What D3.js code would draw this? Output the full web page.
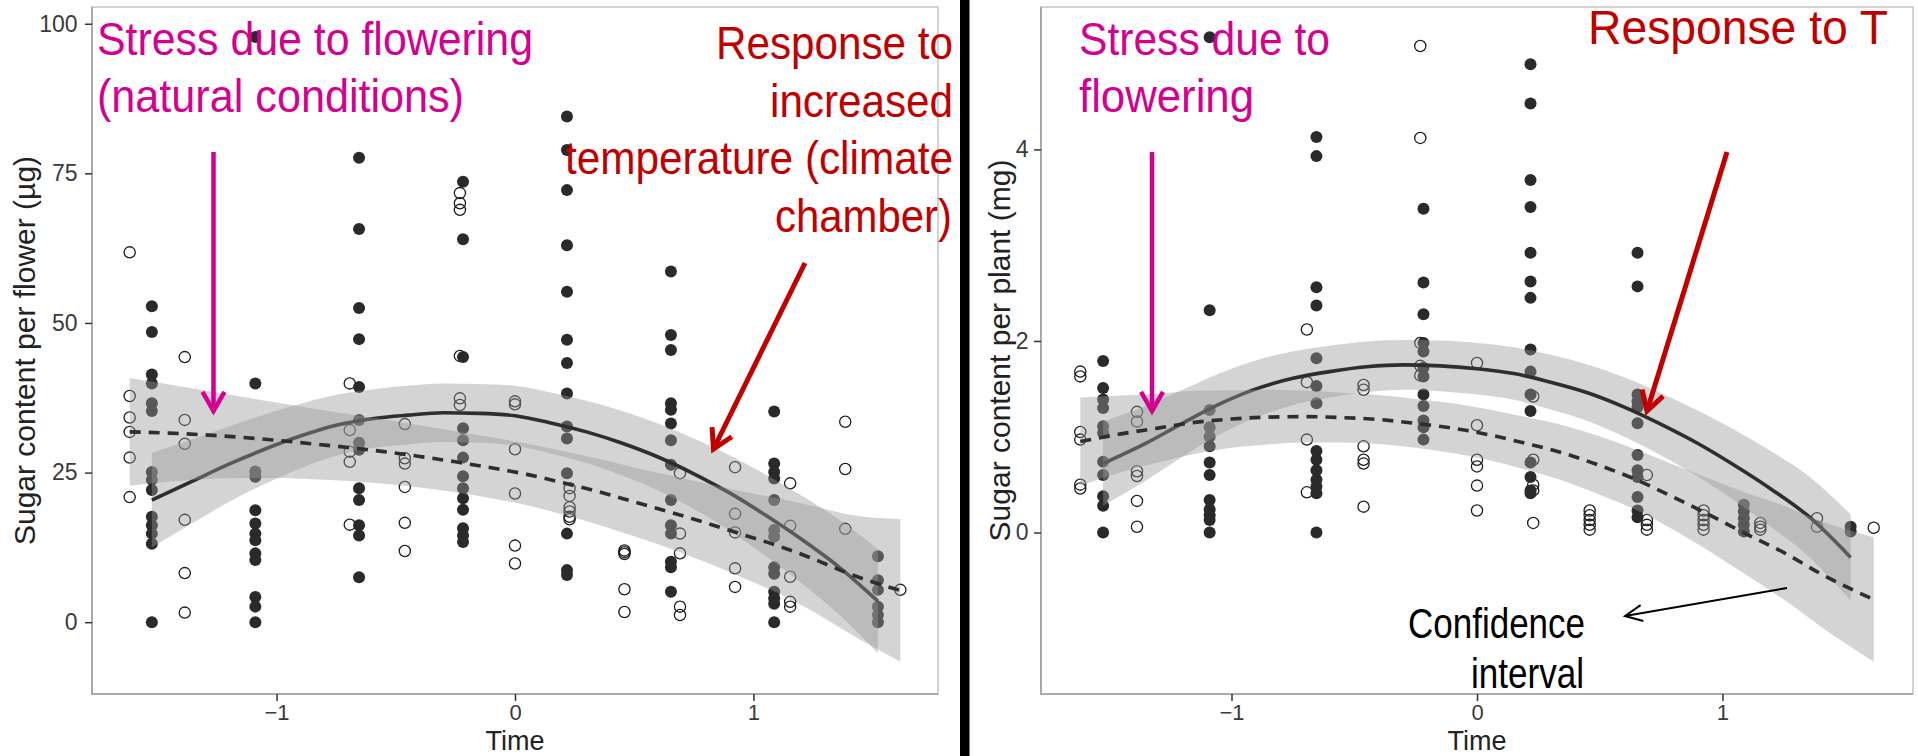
<!DOCTYPE html>
<html>
<head>
<meta charset="utf-8">
<script src="https://cdn.jsdelivr.net/npm/d3@7"></script>
<style>
  html, body { margin: 0; padding: 0; background: #ffffff; }
  svg { display: block; }
</style>
</head>
<body>
<svg id="chart" width="1918" height="756"></svg>
<script>
// ---------- sampling times (scaled) ----------
const openTimes   = [-1.616, -1.385, -0.693, -0.462, -0.231, 0, 0.229, 0.459, 0.692, 0.923, 1.154, 1.385, 1.616];
const filledTimes = [-1.523, -1.089, -0.654, -0.218, 0.218, 0.654, 1.087, 1.522];

// ---------- sugar per flower (µg) ----------
const flowerOpenSugar = [
  [61.8, 37.8, 34.2, 31.8, 27.5, 20.9],
  [44.3, 33.8, 29.8, 17.1, 8.2, 1.6],
  [39.9, 32.1, 28.5, 26.8, 16.3],
  [33.1, 27.4, 26.5, 22.6, 16.6, 11.9],
  [71.7, 70.0, 68.9, 44.5, 37.4, 36.3],
  [36.9, 36.4, 28.9, 21.5, 12.8, 9.8],
  [22.4, 21.1, 19.2, 18.5, 17.6, 17.2],
  [12.0, 11.7, 11.4, 5.5, 1.7],
  [24.9, 14.8, 11.5, 2.6, 1.2],
  [25.9, 18.1, 15.0, 9.0, 5.9],
  [23.2, 16.1, 7.6, 3.4, 2.6],
  [33.5, 25.6, 15.6],
  [5.4]
];
const flowerFilledSugar = [
  [52.8, 48.5, 41.4, 39.9, 36.6, 35.3, 25.1, 23.8, 22.1, 17.6, 16.2, 14.8, 13.1, 0],
  [97.8, 39.9, 25.2, 24.3, 18.7, 16.5, 14.8, 13.7, 11.5, 10.4, 4.2, 2.6, 0],
  [77.6, 65.7, 52.5, 47.3, 39.3, 33.8, 30.0, 28.8, 22.4, 20.4, 16.2, 14.5, 7.5],
  [73.6, 64.0, 44.3, 32.4, 30.4, 27.5, 24.4, 22.4, 20.7, 18.8, 15.7, 14.5, 13.4],
  [84.5, 78.9, 72.2, 63.0, 55.2, 47.2, 43.3, 38.2, 32.7, 30.7, 24.9, 14.8, 8.7, 7.9],
  [58.6, 48.0, 45.5, 36.6, 35.5, 33.2, 30.4, 26.3, 20.4, 16.2, 14.8, 10.1, 9.2, 5.1],
  [35.2, 26.5, 25.1, 24.0, 20.4, 15.4, 14.3, 9.2, 8.1, 5.1, 4.0, 3.1, 0],
  [11.0, 7.0, 5.4, 2.6, 1.2, 0]
];

// ---------- sugar per plant (mg) ----------
const plantOpenSugar = [
  [1.68, 1.63, 1.05, 0.97, 0.50, 0.46],
  [1.26, 1.16, 0.64, 0.59, 0.33, 0.06],
  [2.12, 1.57, 0.97, 0.42],
  [1.54, 1.49, 0.90, 0.76, 0.72, 0.27],
  [5.08, 4.12, 1.98, 1.74, 1.64],
  [1.77, 1.12, 0.76, 0.69, 0.49, 0.23],
  [1.42, 0.76, 0.50, 0.44, 0.10],
  [0.23, 0.18, 0.13, 0.08, 0.03],
  [0.60, 0.13, 0.08, 0.03],
  [0.23, 0.18, 0.13, 0.08, 0.03],
  [0.10, 0.06, 0.03],
  [0.15, 0.06],
  [0.05]
];
const plantFilledSugar = [
  [1.79, 1.51, 1.39, 1.30, 1.11, 1.04, 0.74, 0.60, 0.38, 0.28, 0.0],
  [5.17, 2.32, 1.28, 1.10, 1.00, 0.90, 0.73, 0.60, 0.34, 0.24, 0.18, 0.13, 0.0],
  [4.13, 3.93, 2.56, 2.37, 1.82, 1.53, 1.35, 0.85, 0.76, 0.65, 0.55, 0.48, 0.41, 0.0],
  [3.38, 2.61, 2.28, 1.98, 1.89, 1.72, 1.63, 1.44, 1.32, 1.17, 1.10, 0.97],
  [4.89, 4.48, 3.68, 3.40, 2.92, 2.62, 2.45, 1.91, 1.68, 1.44, 1.27, 0.73, 0.58, 0.44, 0.41],
  [2.92, 2.57, 1.44, 1.37, 1.31, 1.14, 0.81, 0.65, 0.58, 0.37, 0.23, 0.16],
  [0.29, 0.22, 0.15, 0.08, 0.01],
  [0.06, 0.01]
];

// ---------- fitted trends with confidence half-widths ----------
const fitTimeFilled = [-1.523, -1.35, -1.2, -1.05, -0.9, -0.75, -0.6, -0.45, -0.3, -0.15, 0, 0.15, 0.3, 0.45, 0.6, 0.75, 0.9, 1.05, 1.2, 1.35, 1.522];
const fitTimeOpen   = [-1.616, -1.45, -1.3, -1.15, -1.0, -0.85, -0.7, -0.55, -0.4, -0.25, -0.1, 0.05, 0.2, 0.35, 0.5, 0.65, 0.8, 0.95, 1.1, 1.25, 1.4, 1.616];

const flowerFilledFit = [20.4, 23.6, 26.4, 28.9, 31.1, 32.9, 34.0, 34.6, 35.0, 34.9, 34.5, 33.3, 31.8, 29.9, 27.6, 24.8, 21.6, 17.9, 13.9, 9.5, 3.5];
const flowerFilledCI  = [7.9, 7.0, 6.3, 5.8, 5.4, 5.1, 4.9, 4.9, 4.9, 4.9, 5.0, 5.1, 5.2, 5.4, 5.6, 5.9, 6.3, 6.8, 7.3, 7.9, 8.7];
const flowerOpenFit   = [31.8, 31.6, 31.3, 30.9, 30.4, 29.8, 29.2, 28.5, 27.7, 26.8, 25.8, 24.7, 23.3, 21.8, 20.1, 18.4, 16.6, 14.7, 12.8, 10.6, 8.1, 5.3];
const flowerOpenCI    = [9.0, 8.1, 7.4, 6.8, 6.3, 5.9, 5.6, 5.35, 5.2, 5.1, 5.1, 5.15, 5.3, 5.5, 5.75, 6.1, 6.6, 7.2, 7.9, 8.8, 9.9, 11.9];

const plantFilledFit  = [0.72, 0.93, 1.14, 1.34, 1.50, 1.61, 1.68, 1.73, 1.75, 1.74, 1.71, 1.66, 1.57, 1.46, 1.31, 1.13, 0.93, 0.70, 0.45, 0.17, -0.26];
const plantFilledCI   = [0.44, 0.39, 0.35, 0.32, 0.30, 0.28, 0.27, 0.265, 0.26, 0.265, 0.27, 0.275, 0.285, 0.295, 0.31, 0.325, 0.345, 0.37, 0.395, 0.42, 0.45];
const plantOpenFit    = [0.95, 1.03, 1.09, 1.15, 1.185, 1.205, 1.21, 1.20, 1.18, 1.14, 1.09, 1.02, 0.93, 0.83, 0.70, 0.55, 0.37, 0.18, -0.02, -0.21, -0.43, -0.70];
const plantOpenCI     = [0.46, 0.40, 0.36, 0.33, 0.30, 0.285, 0.27, 0.26, 0.255, 0.255, 0.26, 0.265, 0.275, 0.29, 0.305, 0.315, 0.34, 0.38, 0.43, 0.49, 0.55, 0.65];

// ---------- ticks ----------
const timeTicks   = [-1, 0, 1];
const flowerTicks = [0, 25, 50, 75, 100];
const plantTicks  = [0, 2, 4];

// ---------- drawing ----------
const svg = d3.select('#chart');
const FONT = "'Liberation Sans', Arial, 'DejaVu Sans', sans-serif";
const NOTE_FONT = "'Liberation Sans Narrow', 'Liberation Sans', Arial, sans-serif";
const MAGENTA = '#d4008f';
const RED = '#c00000';

svg.append('rect').attr('x', 0).attr('y', 0).attr('width', 1918).attr('height', 756).attr('fill', '#ffffff');

function drawPanel(p) {
  const g = svg.append('g');
  const x = d3.scaleLinear().domain(p.xDomain).range([p.left, p.right]);
  const y = d3.scaleLinear().domain(p.yDomain).range([p.bottom, p.top]);

  // panel frame
  g.append('rect')
    .attr('x', p.left).attr('y', p.top)
    .attr('width', p.right - p.left).attr('height', p.bottom - p.top)
    .attr('fill', 'none').attr('stroke', '#c4c4c4').attr('stroke-width', 1.5);
  g.append('path')
    .attr('d', `M${p.left},${p.top}V${p.bottom}H${p.right}`)
    .attr('fill', 'none').attr('stroke', '#9f9f9f').attr('stroke-width', 1.6);

  // axes
  const styleAxis = (a, size) => {
    a.select('.domain').remove();
    a.selectAll('.tick line').attr('stroke', '#333333').attr('stroke-width', 1.5);
    a.selectAll('.tick text').attr('fill', '#3a3a3a');
    a.attr('font-family', FONT).attr('font-size', size);
  };
  g.append('g')
    .attr('transform', `translate(${p.left},0)`)
    .call(d3.axisLeft(y).tickValues(p.yTicks).tickSize(7).tickPadding(p.yPad).tickFormat(d3.format('d')))
    .call(a => styleAxis(a, 23));
  g.append('g')
    .attr('transform', `translate(0,${p.bottom})`)
    .call(d3.axisBottom(x).tickValues(timeTicks).tickSize(7).tickPadding(3).tickFormat(d3.format('d')))
    .call(a => styleAxis(a, 22));

  // axis titles
  g.append('text')
    .attr('x', (p.left + p.right) / 2).attr('y', 749.5)
    .attr('text-anchor', 'middle')
    .attr('font-family', FONT).attr('font-size', 27).attr('fill', '#222222')
    .text('Time');
  g.append('text')
    .attr('transform', `translate(${p.yTitleX},${(p.top + p.bottom) / 2}) rotate(-90)`)
    .attr('text-anchor', 'middle')
    .attr('font-family', FONT).attr('font-size', 30).attr('fill', '#222222')
    .text(p.yTitle);

  // observations
  const flat = (times, groups) => groups.flatMap((vals, i) => vals.map(v => ({ t: times[i], v })));
  g.append('g').selectAll('circle')
    .data(flat(openTimes, p.openSugar)).join('circle')
    .attr('cx', d => x(d.t)).attr('cy', d => y(d.v)).attr('r', 5.6)
    .attr('fill', 'none').attr('stroke', '#1c1c1c').attr('stroke-width', 1.3);
  g.append('g').selectAll('circle')
    .data(flat(filledTimes, p.filledSugar)).join('circle')
    .attr('cx', d => x(d.t)).attr('cy', d => y(d.v)).attr('r', 6)
    .attr('fill', '#2a2a2a');

  // trends: ribbon then line, filled group first
  const trend = (times, fit, ci, dashed) => {
    const rows = times.map((t, i) => ({ t, f: fit[i], h: ci[i] }));
    g.append('path')
      .attr('d', d3.area().x(d => x(d.t)).y0(d => y(d.f - d.h)).y1(d => y(d.f + d.h)).curve(d3.curveMonotoneX)(rows))
      .attr('fill', '#999999').attr('fill-opacity', 0.42);
    g.append('path')
      .attr('d', d3.line().x(d => x(d.t)).y(d => y(d.f)).curve(d3.curveMonotoneX)(rows))
      .attr('fill', 'none').attr('stroke', '#2e2e2e').attr('stroke-width', 3.6)
      .attr('stroke-dasharray', dashed ? '11,8' : null);
  };
  trend(fitTimeFilled, p.filledFit, p.filledCI, false);
  trend(fitTimeOpen, p.openFit, p.openCI, true);
}

drawPanel({
  left: 92, right: 938, top: 7, bottom: 694,
  xDomain: [-1.774, 1.774], yDomain: [-12.0, 102.8],
  yTicks: flowerTicks, yPad: 7.5, yTitleX: 35,
  yTitle: 'Sugar content per flower (µg)',
  openSugar: flowerOpenSugar, filledSugar: flowerFilledSugar,
  filledFit: flowerFilledFit, filledCI: flowerFilledCI,
  openFit: flowerOpenFit, openCI: flowerOpenCI
});

drawPanel({
  left: 1041, right: 1913, top: 7, bottom: 694,
  xDomain: [-1.776, 1.776], yDomain: [-1.686, 5.487],
  yTicks: plantTicks, yPad: 5.5, yTitleX: 1010,
  yTitle: 'Sugar content per plant (mg)',
  openSugar: plantOpenSugar, filledSugar: plantFilledSugar,
  filledFit: plantFilledFit, filledCI: plantFilledCI,
  openFit: plantOpenFit, openCI: plantOpenCI
});

// divider between the two figures
svg.append('rect').attr('x', 960).attr('y', 0).attr('width', 9.5).attr('height', 756).attr('fill', '#000000');

// ---------- annotations ----------
const notes = [
  { text: 'Stress due to flowering', x: 97, y: 55, w: 436, size: 47, color: MAGENTA },
  { text: '(natural conditions)', x: 97, y: 112, w: 367, size: 47, color: MAGENTA },
  { text: 'Response to', x: 716, y: 59, w: 237, size: 47, color: RED },
  { text: 'increased', x: 770, y: 117, w: 183, size: 47, color: RED },
  { text: 'temperature (climate', x: 565, y: 174, w: 388, size: 47, color: RED },
  { text: 'chamber)', x: 775, y: 232, w: 177, size: 47, color: RED },
  { text: 'Stress due to', x: 1079, y: 55, w: 251, size: 47, color: MAGENTA },
  { text: 'flowering', x: 1079, y: 112, w: 175, size: 47, color: MAGENTA },
  { text: 'Response to T', x: 1588, y: 44, w: 300, size: 49, color: RED },
  { text: 'Confidence', x: 1408, y: 638, w: 177, size: 42, color: '#000000' },
  { text: 'interval', x: 1471, y: 688, w: 113, size: 42, color: '#000000' }
];
svg.append('g').selectAll('text').data(notes).join('text')
  .attr('x', d => d.x).attr('y', d => d.y)
  .attr('font-family', NOTE_FONT).attr('font-size', d => d.size)
  .attr('fill', d => d.color)
  .attr('textLength', d => d.w).attr('lengthAdjust', 'spacingAndGlyphs')
  .text(d => d.text);

// arrows: shaft from (x1,y1) to tip (x2,y2) with an open head
function arrow(x1, y1, x2, y2, color, width, headLen, spreadA, spreadB) {
  const back = Math.atan2(y1 - y2, x1 - x2);
  const a1 = back + spreadA * Math.PI / 180;
  const a2 = back - spreadB * Math.PI / 180;
  const g = svg.append('g').attr('stroke', color).attr('stroke-width', width).attr('fill', 'none')
    .attr('stroke-linecap', 'butt').attr('stroke-linejoin', 'miter');
  g.append('path').attr('d', `M${x1},${y1}L${x2},${y2}`);
  g.append('path').attr('d',
    `M${x2 + headLen * Math.cos(a1)},${y2 + headLen * Math.sin(a1)}L${x2},${y2}L${x2 + headLen * Math.cos(a2)},${y2 + headLen * Math.sin(a2)}`);
}
arrow(213.5, 152, 213.5, 411, MAGENTA, 4.5, 22, 30, 30);
arrow(805, 263, 713.5, 449, RED, 5, 22, 30, 30);
arrow(1152, 152, 1152, 411, MAGENTA, 4.5, 22, 30, 30);
arrow(1727, 152, 1647, 411, RED, 5, 22, 30, 30);
arrow(1787, 588, 1625, 616, '#000000', 2, 19, 25, 25);
</script>
</body>
</html>
